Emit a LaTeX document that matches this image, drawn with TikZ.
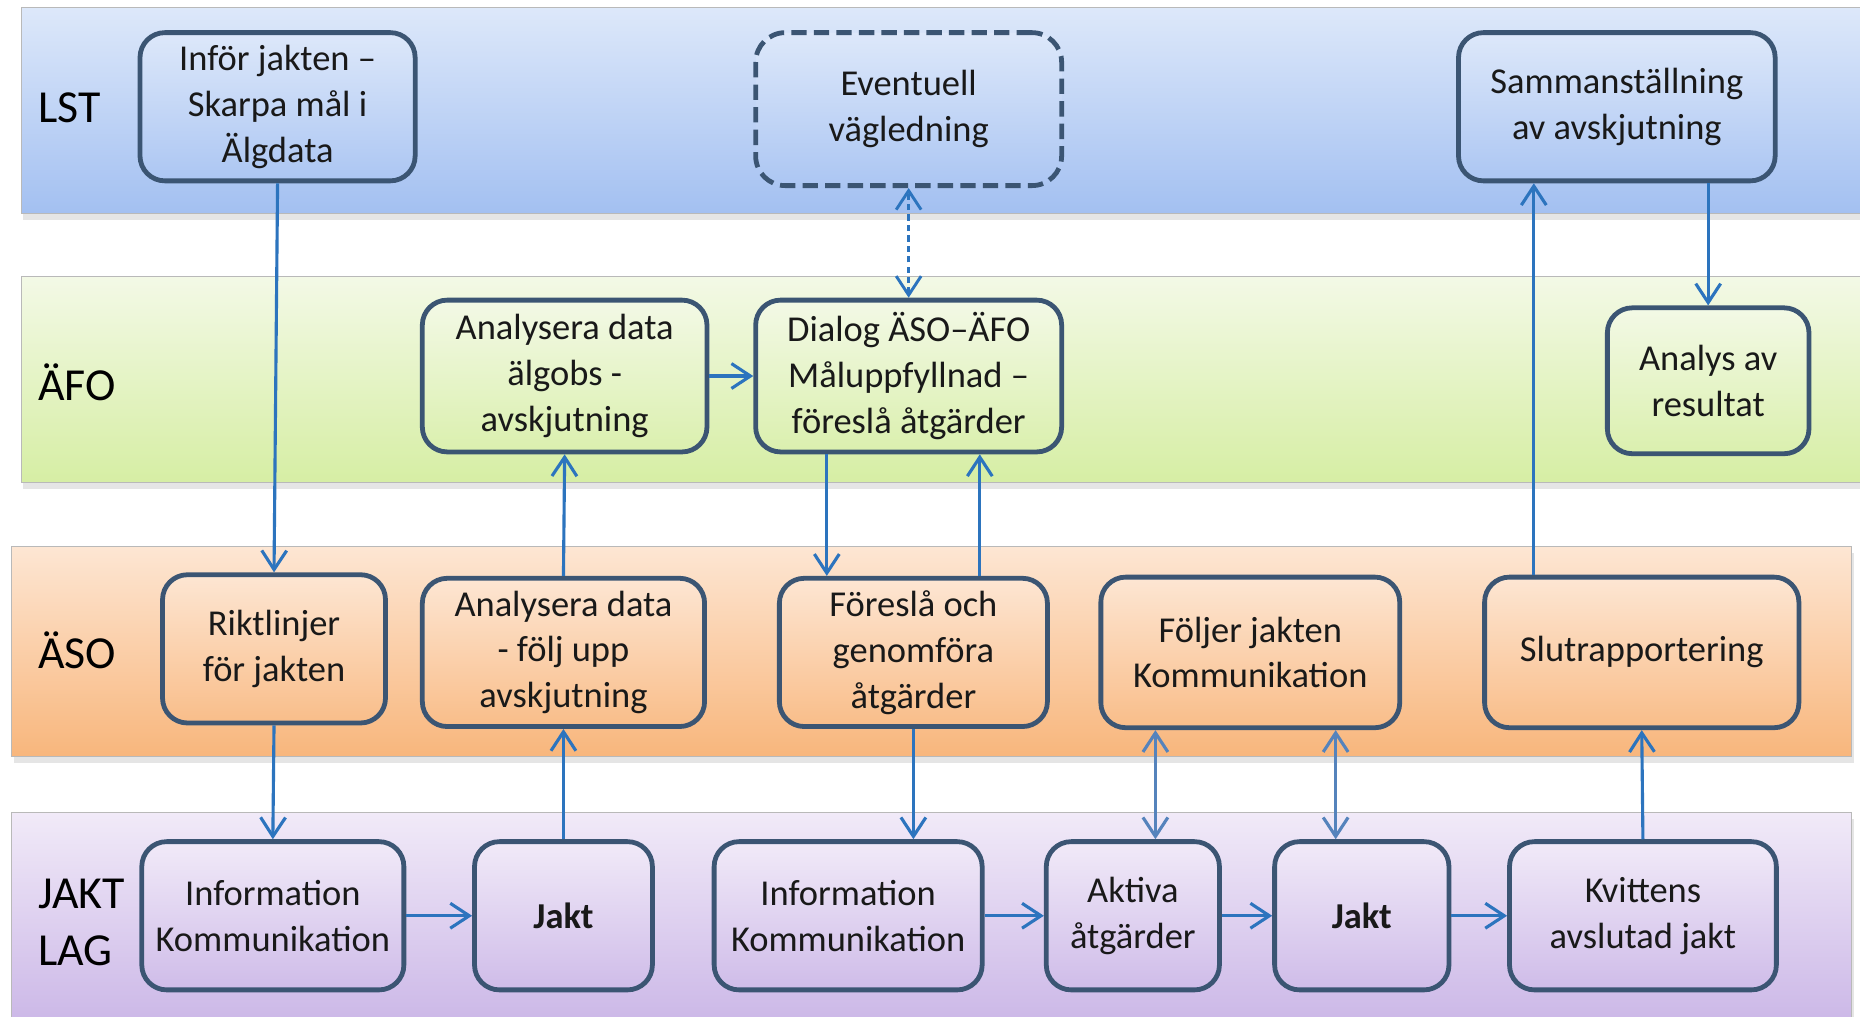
\documentclass[tikz,border=0pt]{standalone}
\usepackage{fontspec}
\setmainfont{Carlito}
\usepackage{xcolor}
\usepackage{tikz}
\usetikzlibrary{arrows.meta}
\usetikzlibrary{shadows}

\definecolor{lstTop}{HTML}{DDE8FA}
\definecolor{lstBot}{HTML}{A3C0F1}
\definecolor{afoTop}{HTML}{F3F9E6}
\definecolor{afoBot}{HTML}{D6EEA4}
\definecolor{asoTop}{HTML}{FDE6D3}
\definecolor{asoBot}{HTML}{F8B67C}
\definecolor{jlTop}{HTML}{F1EAF8}
\definecolor{jlBot}{HTML}{C9B4E6}
\definecolor{boxline}{HTML}{3B5573}
\definecolor{arrowblue}{HTML}{2C74BE}
\definecolor{arrowlight}{HTML}{5583BC}

\begin{document}
\begin{tikzpicture}[x=0.02cm,y=-0.02cm,
	band/.style={draw=gray!55,line width=0.5pt,drop shadow={opacity=0.2,shadow xshift=1pt,shadow yshift=-3pt}},
	box/.style={draw=boxline,line width=2.3pt,rounded corners=0.42cm,align=center,inner sep=2pt,text=black!90,font=\fontsize{17.5}{22}\selectfont},
	lstbox/.style={box,top color=lstTop,bottom color=lstBot!85!lstTop},
	afobox/.style={box,top color=afoTop,bottom color=afoBot!85!afoTop},
	asobox/.style={box,top color=asoTop,bottom color=asoBot!85!asoTop},
	jlbox/.style={box,top color=jlTop,bottom color=jlBot!85!jlTop},
	lane/.style={anchor=west,inner sep=0pt,align=left,font=\fontsize{22}{27.3}\selectfont},
	tip/.tip={Straight Barb[length=0.32cm,width=0.42cm]},
	flow/.style={draw=arrowblue,line width=1.5pt,-tip},
	both/.style={draw=arrowlight,line width=1.5pt,tip-tip},
	dflow/.style={draw=arrowblue,line width=1.4pt,tip-tip,dash pattern=on 3pt off 2pt}]
		\useasboundingbox (0,0) rectangle (1568,857);
		\fill[white] (0,0) rectangle (1568,857);
		\draw[band,top color=lstTop,bottom color=lstBot] (18,6) rectangle (1580,180);
		\draw[band,top color=afoTop,bottom color=afoBot] (18,233) rectangle (1580,407);
		\draw[band,top color=asoTop,bottom color=asoBot] (10,461) rectangle (1561,638);
		\draw[band,top color=jlTop,bottom color=jlBot] (10,685) rectangle (1561,875);
		\node[lane] (lst) at (32,91) {LST};
		\node[lane] (afo) at (32,322) {ÄFO};
		\node[lane] (aso) at (32,548) {ÄSO};
		\node[lane] (jl) at (32,778) {JAKT\\LAG};
		\node[lstbox,minimum width=4.64cm,minimum height=2.5cm] (infor) at (234,90) {Inför jakten –\\Skarpa mål i\\Älgdata};
		\node[lstbox,minimum width=5.16cm,minimum height=2.58cm,dash pattern=on 0.26cm off 0.12cm,rounded corners=0.5cm] (event) at (766,92) {Eventuell\\vägledning};
		\node[lstbox,minimum width=5.34cm,minimum height=2.5cm] (samm) at (1363,90) {Sammanställning\\av avskjutning};
		\node[afobox,minimum width=4.8cm,minimum height=2.56cm] (anafo) at (476,317) {Analysera data\\älgobs -\\avskjutning};
		\node[afobox,minimum width=5.16cm,minimum height=2.56cm] (dialog) at (766,317) {Dialog ÄSO–ÄFO\\Måluppfyllnad –\\föreslå åtgärder};
		\node[afobox,minimum width=3.4cm,minimum height=2.46cm] (analys) at (1440,321) {Analys av\\resultat};
		\node[asobox,minimum width=3.76cm,minimum height=2.5cm] (rikt) at (231,547) {Riktlinjer\\för jakten};
		\node[asobox,minimum width=4.76cm,minimum height=2.5cm] (anaaso) at (475,550) {Analysera data\\- följ upp\\avskjutning};
		\node[asobox,minimum width=4.52cm,minimum height=2.5cm] (foresla) at (770,550) {Föreslå och\\genomföra\\åtgärder};
		\node[asobox,minimum width=5.04cm,minimum height=2.54cm] (foljer) at (1054,550) {Följer jakten\\Kommunikation};
		\node[asobox,minimum width=5.3cm,minimum height=2.54cm] (slut) at (1384,550) {Slutrapportering};
		\node[jlbox,minimum width=4.42cm,minimum height=2.5cm] (info1) at (230,772) {Information\\Kommunikation};
		\node[jlbox,minimum width=3cm,minimum height=2.5cm] (jakt1) at (475,772) {\textbf{Jakt}};
		\node[jlbox,minimum width=4.52cm,minimum height=2.5cm] (info2) at (715,772) {Information\\Kommunikation};
		\node[jlbox,minimum width=2.92cm,minimum height=2.5cm] (aktiva) at (955,772) {Aktiva\\åtgärder};
		\node[jlbox,minimum width=2.94cm,minimum height=2.5cm] (jakt2) at (1148,772) {\textbf{Jakt}};
		\node[jlbox,minimum width=4.5cm,minimum height=2.5cm] (kvitt) at (1385,772) {Kvittens\\avslutad jakt};
		\draw[flow] (infor.south) -- (rikt.north);
		\draw[flow] (rikt.south) -- (info1.north);
		\draw[flow] (info1.east) -- (jakt1.west);
		\draw[flow] (jakt1.north) -- (anaaso.south);
		\draw[flow] (anaaso.north) -- (anafo.south);
		\draw[flow] (anafo.east) -- (dialog.west);
		\draw[dflow] (dialog.north) -- (event.south);
		\draw[flow] ([xshift=-1.38cm]dialog.south) -- ([xshift=-1.38cm]dialog.south |- foresla.north);
		\draw[flow] ([xshift=1.12cm]foresla.north) -- ([xshift=1.12cm]foresla.north |- dialog.south);
		\draw[flow] (foresla.south) -- (foresla.south |- info2.north);
		\draw[flow] (info2.east) -- (aktiva.west);
		\draw[both] ([xshift=-1.6cm]foljer.south) -- ([xshift=-1.6cm]foljer.south |- aktiva.north);
		\draw[flow] (aktiva.east) -- (jakt2.west);
		\draw[both] ([xshift=1.44cm]foljer.south) -- ([xshift=1.44cm]foljer.south |- jakt2.north);
		\draw[flow] (jakt2.east) -- (kvitt.west);
		\draw[flow] (kvitt.north) -- (slut.south);
		\draw[flow] ([xshift=-1.82cm]slut.north) -- ([xshift=-1.82cm]slut.north |- samm.south);
		\draw[flow] (samm.south -| analys.north) -- (analys.north);
	\end{tikzpicture}
\end{document}
